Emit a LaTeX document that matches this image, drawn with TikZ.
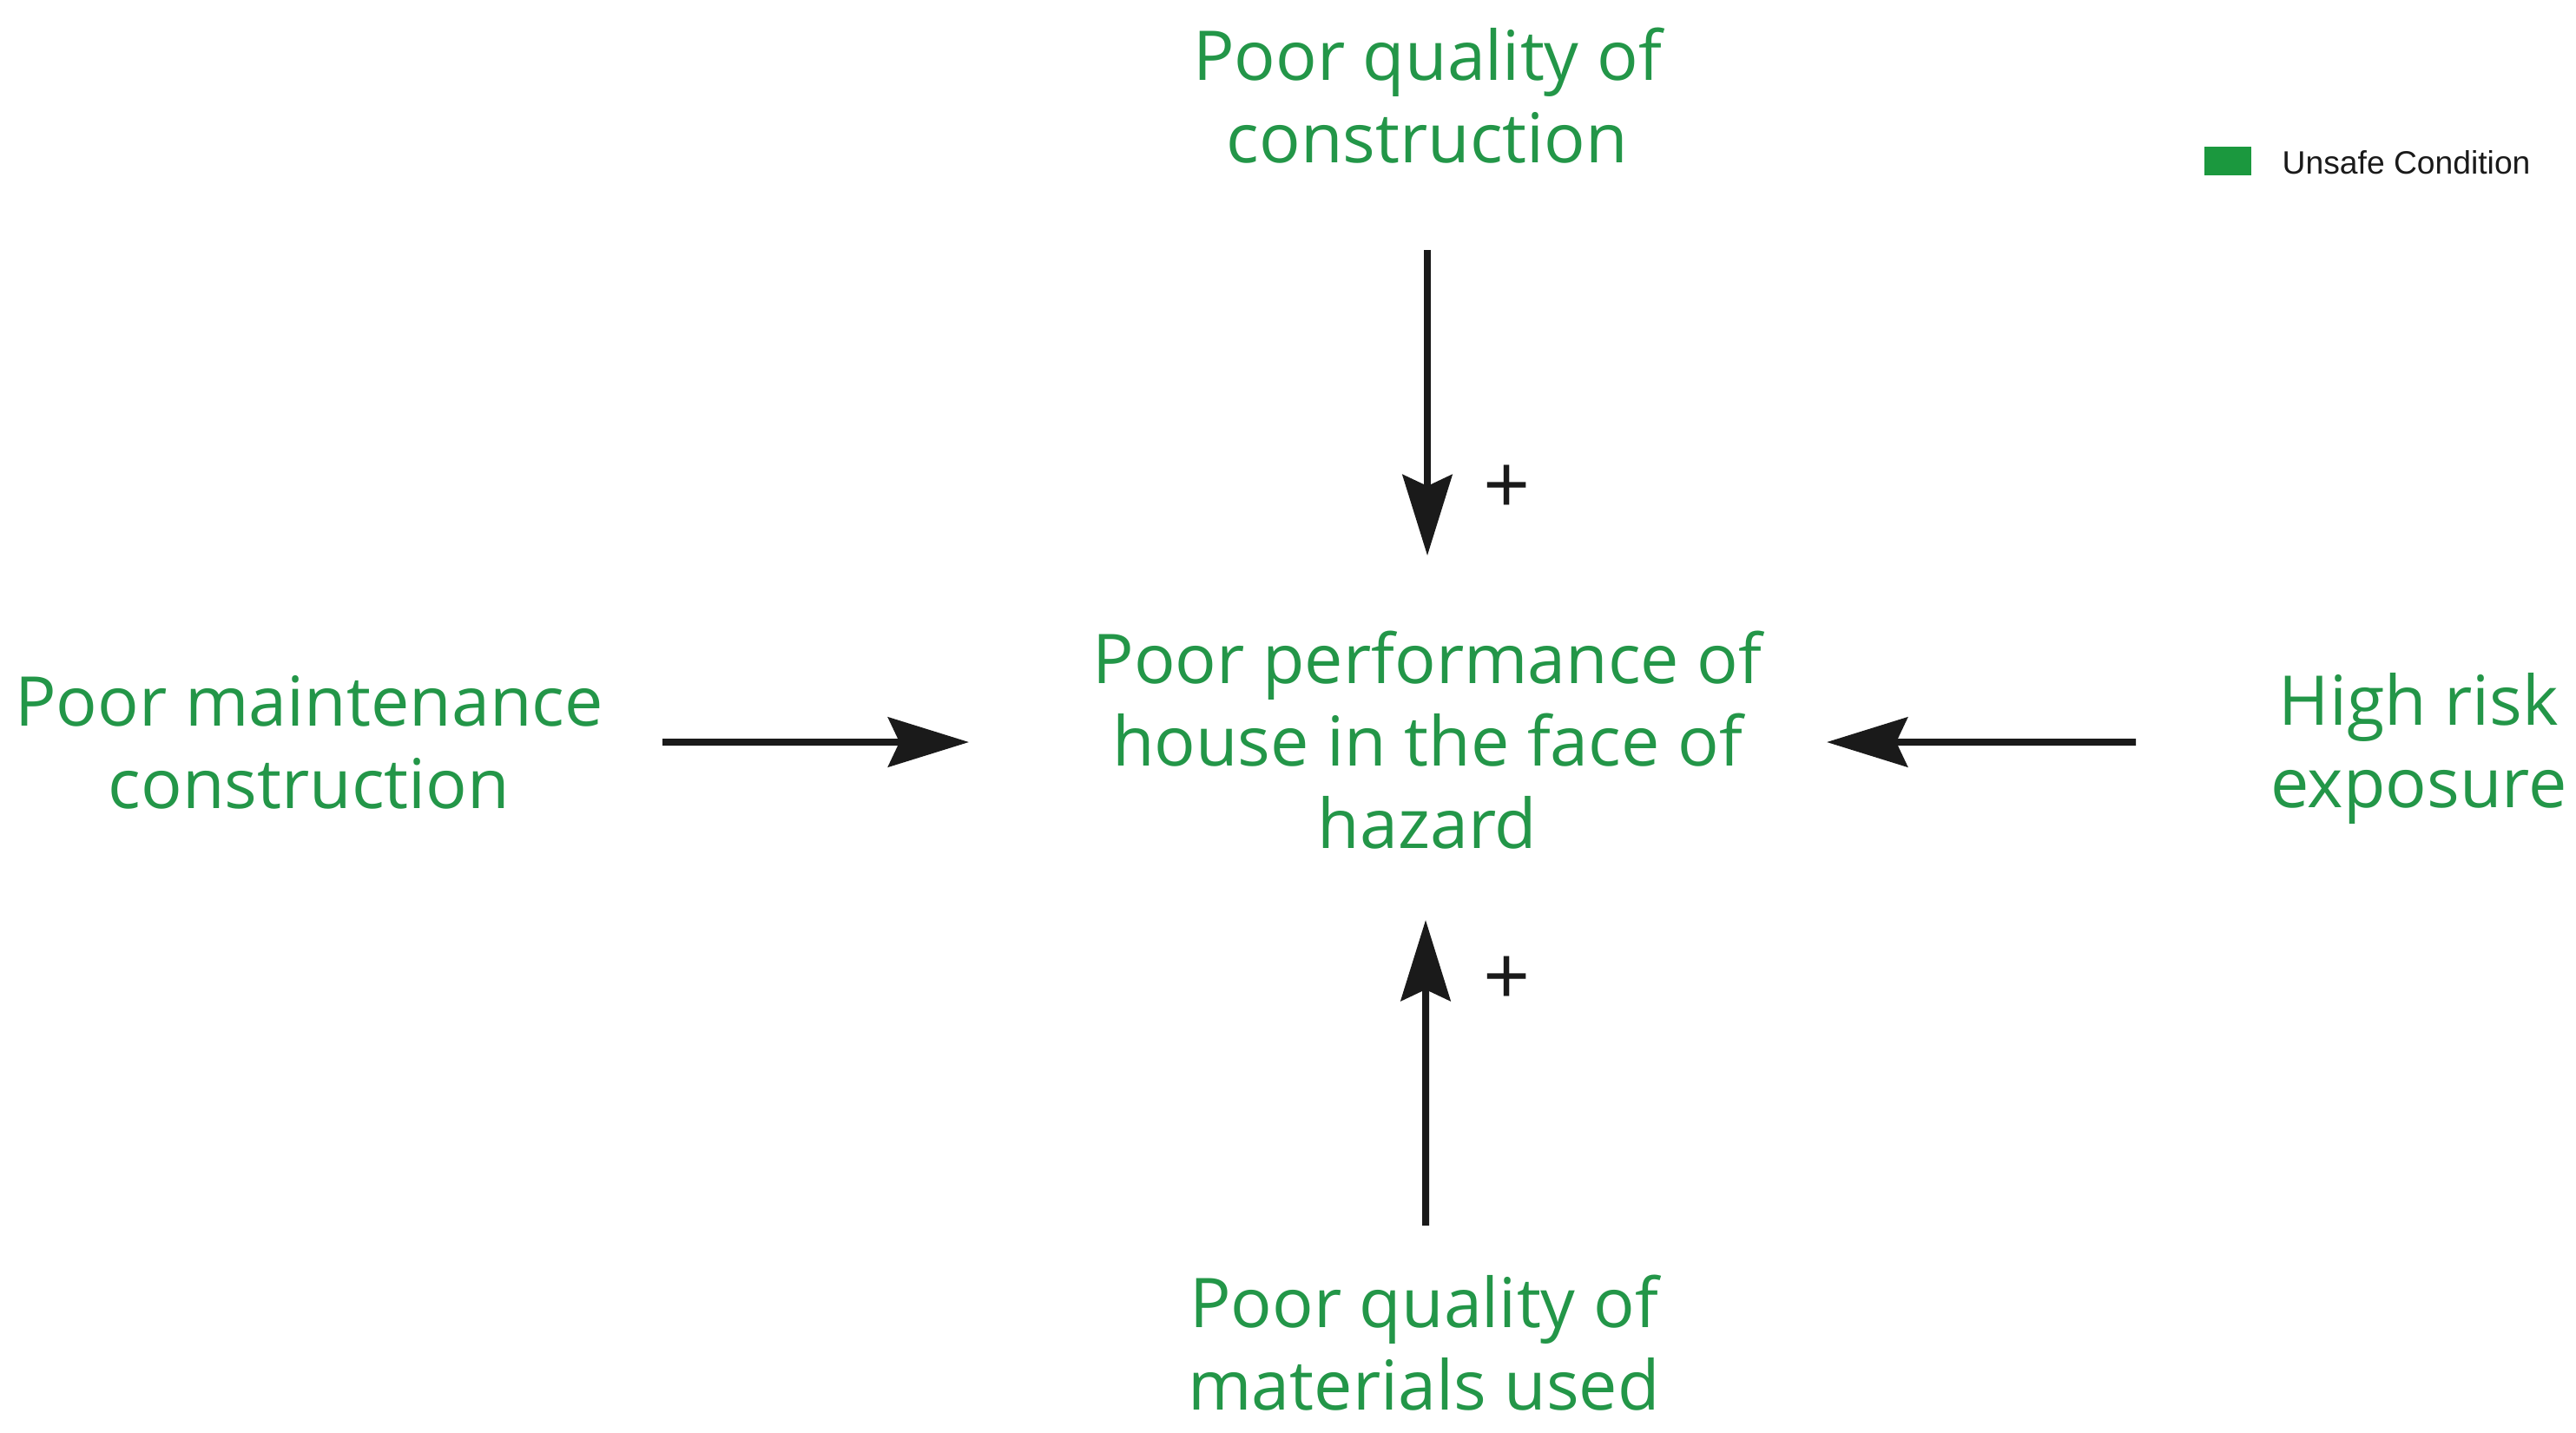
\documentclass[tikz,border=0pt]{standalone}
\usepackage{fontspec}
\setmainfont{Open Sans}
\newfontfamily\legendfont{Liberation Sans}
\usetikzlibrary{arrows.meta}
\definecolor{txtgreen}{RGB}{35,150,72}
\definecolor{boxgreen}{RGB}{27,152,62}
\definecolor{arrblack}{RGB}{26,26,26}
\tikzset{
  factor/.style={text=txtgreen, align=center, inner sep=0pt,
    font=\fontsize{22.5pt}{27pt}\selectfont},
  arr/.style={draw=arrblack, line width=0.08cm,
    -{Stealth[length=0.93cm,width=0.57cm,inset=0.13cm]}},
  sign/.style={text=arrblack, inner sep=0pt, font=\fontsize{27pt}{30pt}\selectfont},
}
\begin{document}
\begin{tikzpicture}
\useasboundingbox (0,0) rectangle (29.67,-16.50);
% nodes
\node[factor] (qc) at (16.44,-1.10) {Poor quality of\\construction};
\node[factor] (perf) at (16.44,-8.53) {Poor performance of\\house in the face of\\hazard};
\node[factor] (pm) at (3.56,-8.55) {Poor maintenance\\construction};
\node[factor] (hr) at (27.86,-8.62) {High risk\\exposure};
\node[factor] (qm) at (16.40,-15.47) {Poor quality of\\materials used};
% connectors
\draw[arr] ([yshift=-1.78cm]qc.center) -- ([yshift=2.13cm]perf.center);
\draw[arr] ([xshift=0.02cm,yshift=1.35cm]qm.center) -- ([xshift=-0.02cm,yshift=-2.07cm]perf.center);
\draw[arr] ([xshift=4.07cm]pm.center) -- ([xshift=-5.28cm,yshift=-0.02cm]perf.center);
\draw[arr] ([xshift=-3.26cm,yshift=0.07cm]hr.center) -- ([xshift=4.60cm,yshift=-0.02cm]perf.center);
% signs
\node[sign] (plus1) at (17.36,-5.64) {+};
\node[sign] (plus2) at (17.36,-11.30) {+};
% legend
\node[fill=boxgreen, minimum width=0.54cm, minimum height=0.33cm, inner sep=0pt] (lgbox) at (25.66,-1.85) {};
\node[anchor=west, inner sep=0pt, font=\legendfont\fontsize{10.6pt}{12pt}\selectfont, text=arrblack] (lgtext) at (26.28,-1.87) {Unsafe Condition};
\end{tikzpicture}
\end{document}
